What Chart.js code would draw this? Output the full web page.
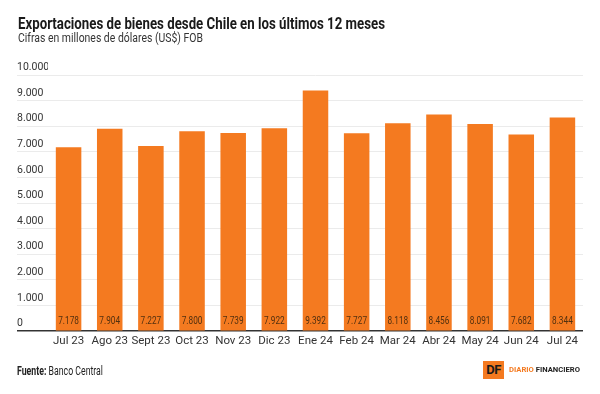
<!DOCTYPE html>
<html><head><meta charset="utf-8">
<script src="https://cdn.jsdelivr.net/npm/chart.js@4.4.1/dist/chart.umd.min.js"></script>
<style>
html,body{margin:0;padding:0;background:#fff;width:600px;height:394px;overflow:hidden;font-family:Roboto,"Noto Sans",sans-serif;}
#wrap{position:absolute;left:0;top:0;width:600px;height:394px;}
.t{position:absolute;white-space:nowrap;transform-origin:0 0;color:#1a1a1a;line-height:1;}
#title{left:18px;top:15px;font-weight:700;font-size:17px;}
#sub{left:18px;top:32px;font-size:12.5px;color:#333;}
#src{left:17px;top:365px;font-size:12px;color:#222;}
#logo{position:absolute;left:483px;top:361px;height:18px;}
#logobox{position:absolute;left:0;top:0;width:21px;height:18px;background:#f47a20;color:#1a1a1a;font:700 13px Roboto,sans-serif;line-height:18px;text-align:center;letter-spacing:-0.5px;}
#logotxt{position:absolute;left:26px;top:5px;font:700 8px Roboto,sans-serif;line-height:1;white-space:nowrap;transform-origin:0 0;}
</style></head>
<body>
<div id="wrap"><canvas id="c" width="600" height="394"></canvas></div>
<div class="t" id="title" data-w="367">Exportaciones de bienes desde Chile en los últimos 12 meses</div>
<div class="t" id="sub" data-w="185">Cifras en millones de dólares (US$) FOB</div>
<div class="t" id="src" data-w="86"><b>Fuente:</b> Banco Central</div>
<div id="logo"><div id="logobox">DF</div><div id="logotxt" data-w="71"><span style="color:#f47a20">DIARIO</span> <span style="color:#222">FINANCIERO</span></div></div>
<script>
const categories = ['Jul 23','Ago 23','Sept 23','Oct 23','Nov 23','Dic 23','Ene 24','Feb 24','Mar 24','Abr 24','May 24','Jun 24','Jul 24'];
const exportValues = [7178, 7904, 7227, 7800, 7739, 7922, 9392, 7727, 8118, 8456, 8091, 7682, 8344];
const yTickValues = [0,1000,2000,3000,4000,5000,6000,7000,8000,9000,10000];

document.querySelectorAll('[data-w]').forEach(el=>{
  const target=+el.dataset.w; const w=el.getBoundingClientRect().width;
  el.style.transform='scaleX('+(target/w)+')';
});

function fmt(v){return String(v).replace(/\B(?=(\d{3})+(?!\d))/g,'.');}

const valueLabels = {
  id:'valueLabels',
  afterDatasetsDraw(chart){
    const ctx=chart.ctx; const meta=chart.getDatasetMeta(0);
    const y0=chart.scales.y.getPixelForValue(0);
    ctx.font='11px Roboto, sans-serif';
    ctx.fillStyle='#52300f';
    ctx.textAlign='center'; ctx.textBaseline='middle';
    meta.data.forEach((bar,i)=>{
      ctx.save();
      ctx.translate(bar.x, y0-10);
      ctx.scale(0.75,1);
      ctx.fillText(fmt(exportValues[i]), 0, 0);
      ctx.restore();
    });
  }
};

new Chart(document.getElementById('c'),{
  type:'bar',
  data:{labels:categories,datasets:[{data:exportValues,backgroundColor:'#f47a20',borderWidth:0,barPercentage:0.62,categoryPercentage:1}]},
  options:{
    responsive:false,animation:false,
    layout:{padding:{top:75,left:17,right:17,bottom:43}},
    plugins:{legend:{display:false},tooltip:{enabled:false}},
    scales:{
      x:{grid:{display:false,drawTicks:false},border:{display:false},
         ticks:{color:'#333',font:{family:'Roboto, sans-serif',size:11.5},padding:3,maxRotation:0,autoSkip:false}},
      y:{min:0,max:10000,
         afterBuildTicks(s){s.ticks=yTickValues.map(v=>({value:v}));},
         afterFit(s){s.width=31;},
         border:{display:false},
         grid:{color:c=>c.tick&&c.tick.value===0?'#333':'#ebebeb',lineWidth:c=>c.tick&&c.tick.value===0?1.5:1,drawTicks:true,tickLength:31},
         ticks:{crossAlign:'far',labelOffset:-7.5,padding:0,color:'#333',font:{family:'Roboto, sans-serif',size:10.5},callback:v=>fmt(v)}}
    }
  },
  plugins:[valueLabels]
});
</script>
</body></html>
